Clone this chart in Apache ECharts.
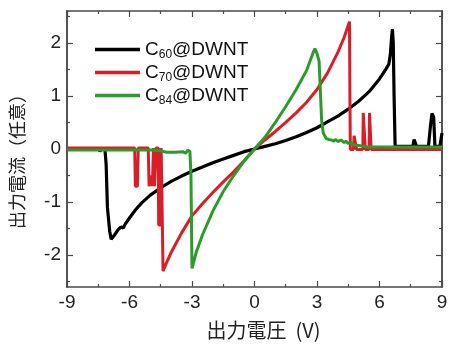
<!DOCTYPE html>
<html>
<head>
<meta charset="utf-8">
<script src="https://cdn.jsdelivr.net/npm/echarts@6/dist/echarts.min.js"></script>
<style>
html,body{margin:0;padding:0;background:#fff;}
#c{width:451px;height:345px;}
</style>
</head>
<body>
<div id="c"></div>
<script>
// ---- data ----
var seriesNames = ['C60@DWNT', 'C70@DWNT', 'C84@DWNT'];
var xTickLabels = [-9, -6, -3, 0, 3, 6, 9];
var yTickLabels = [-2, -1, 0, 1, 2];
var yMinorTicks = [-2.5, -1.5, -0.5, 0.5, 1.5, 2.5];
var xTitle = '出力電圧  (V)';
var yTitle = '出力電流（任意）';

var c60 = [
  [-9,0.0],[-8.0,0.0],[-7.45,0.0],[-7.42,-0.05],[-7.38,0.0],[-7.18,0.0],[-7.12,-0.3],[-7.06,-1.1],
  [-7.0,-1.35],[-6.95,-1.55],[-6.88,-1.7],[-6.8,-1.68],[-6.72,-1.62],[-6.6,-1.55],[-6.5,-1.5],
  [-6.4,-1.47],[-6.3,-1.49],[-6.2,-1.41],[-6.0,-1.3],[-5.7,-1.14],[-5.4,-1.01],[-5.0,-0.87],
  [-4.5,-0.73],[-4.0,-0.61],[-3.5,-0.51],[-3.0,-0.42],[-2.5,-0.34],[-2.0,-0.26],[-1.5,-0.19],
  [-1.0,-0.12],[-0.5,-0.05],[0,0],[0.5,0.05],[1.0,0.1],[1.5,0.16],[2.0,0.23],[2.5,0.31],
  [3.0,0.4],[3.5,0.51],[4.0,0.62],[4.5,0.75],[5.0,0.9],[5.5,1.08],[6.0,1.32],[6.3,1.5],
  [6.45,1.6],[6.52,1.78],[6.58,2.1],[6.62,2.26],[6.66,2.0],[6.7,1.0],[6.75,0.05],[7.0,0.05],
  [7.6,0.05],[7.66,0.18],[7.72,0.17],[7.78,0.05],[8.35,0.05],[8.45,0.45],[8.52,0.67],[8.6,0.6],
  [8.66,0.05],[8.9,0.05],[9.0,0.3]
];
var c70 = [
  [-9,0.02],[-5.75,0.02],[-5.72,-0.7],[-5.62,-0.7],[-5.58,0.02],[-5.1,0.02],[-5.06,-0.7],
  [-4.96,-0.5],[-4.9,-0.7],[-4.85,0.02],[-4.8,-0.7],[-4.74,-0.7],[-4.72,0.02],[-4.62,0.02],
  [-4.6,-1.43],[-4.5,-1.43],[-4.48,0.02],[-4.45,0.02],[-4.42,-1.5],[-4.39,-2.3],[-4.2,-2.12],
  [-4.0,-1.95],[-3.76,-1.77],[-3.5,-1.58],[-3.0,-1.26],[-2.5,-1.03],[-2.0,-0.82],[-1.5,-0.62],
  [-1.0,-0.43],[-0.5,-0.22],[0,0],[0.5,0.17],[1.0,0.33],[1.5,0.5],[2.0,0.68],[2.5,0.88],
  [3.0,1.12],[3.5,1.43],[4.0,1.82],[4.3,2.1],[4.5,2.33],[4.56,2.4],[4.58,1.0],[4.6,-0.01],
  [4.75,-0.01],[4.78,0.25],[4.86,0.25],[4.9,-0.01],[5.2,-0.01],[5.22,0.68],[5.3,0.68],
  [5.32,-0.01],[5.5,-0.01],[5.52,0.68],[5.58,0.68],[5.6,-0.01],[9,-0.01]
];
var c84 = [
  [-9,-0.02],[-5.0,-0.02],[-4.6,-0.03],[-4.2,-0.06],[-3.8,-0.06],[-3.45,-0.05],[-3.3,-0.08],
  [-3.2,-0.02],[-3.1,-0.05],[-3.05,-0.5],[-3.0,-2.25],[-2.8,-1.95],[-2.5,-1.62],[-2.0,-1.17],
  [-1.5,-0.8],[-1.0,-0.5],[-0.5,-0.23],[0,0],[0.5,0.22],[1.0,0.5],[1.5,0.8],[2.0,1.12],
  [2.5,1.48],[2.8,1.8],[2.9,1.89],[3.0,1.8],[3.1,1.65],[3.15,1.2],[3.22,0.55],[3.3,0.3],
  [3.44,0.2],[3.55,0.18],[3.68,0.17],[3.8,0.15],[3.9,0.18],[4.0,0.14],[4.15,0.17],[4.3,0.12],
  [4.4,0.15],[4.47,0.11],[4.6,0.12],[4.79,0.075],[5.1,0.06],[5.42,0.04],[9,0.04]
];
var seriesData = [c60, c70, c84];
var seriesColors = ['#000000', '#d81e28', '#2b9b2b'];

// ---- chart ----
var FONT = 'Liberation Sans, Arial, sans-serif';
var CJK = 'Noto Sans CJK JP, sans-serif';
var axisColor = '#4a4a4a';
var chart = echarts.init(document.getElementById('c'), null, {renderer: 'canvas'});

function yAxisDef(pos, ticks, len, labels, extra) {
  var a = {
    type: 'value', position: pos, min: -2.6, max: 2.6,
    axisLine: {show: true, onZero: false, lineStyle: {color: axisColor, width: 1.5}},
    axisTick: {show: true, inside: true, length: len, customValues: ticks, lineStyle: {color: axisColor, width: 1.2}},
    axisLabel: labels ? {show: true, customValues: yTickLabels, fontSize: 19, fontFamily: FONT, color: '#222', margin: 6} : {show: false},
    splitLine: {show: false}
  };
  if (extra) for (var k in extra) a[k] = extra[k];
  return a;
}
function xAxisDef(pos, labels, extra) {
  var a = {
    type: 'value', position: pos, min: xTickLabels[0], max: xTickLabels[xTickLabels.length - 1], interval: 3,
    axisLine: {show: true, onZero: false, lineStyle: {color: axisColor, width: 1.5}},
    axisTick: {show: true, inside: true, length: 6, lineStyle: {color: axisColor, width: 1.2}},
    minorTick: {show: true, splitNumber: 2, length: 3, lineStyle: {color: axisColor, width: 1.2}},
    axisLabel: labels ? {show: true, fontSize: 19, fontFamily: FONT, color: '#222', margin: 6} : {show: false},
    splitLine: {show: false}, minorSplitLine: {show: false}
  };
  if (extra) for (var k in extra) a[k] = extra[k];
  return a;
}

var series = seriesNames.map(function (n, i) {
  return {
    name: n, type: 'line', data: seriesData[i], xAxisIndex: 0, yAxisIndex: 0,
    symbol: 'none', smooth: false, animation: false,
    lineStyle: {color: seriesColors[i], width: i === 0 ? 3.2 : 3},
    itemStyle: {color: seriesColors[i]}
  };
});

chart.setOption({
  backgroundColor: '#ffffff',
  animation: false,
  grid: {left: 63, right: 9, top: 11, bottom: 58, containLabel: false},
  xAxis: [
    xAxisDef('bottom', true, {
      name: xTitle, nameLocation: 'middle', nameGap: 33,
      nameTextStyle: {fontSize: 20, fontFamily: CJK, color: '#222', padding: [0, 0, 0, 18]}
    }),
    xAxisDef('top', false)
  ],
  yAxis: [
    yAxisDef('left', yTickLabels, 6, true, {
      name: yTitle, nameLocation: 'middle', nameGap: 41, nameRotate: 90,
      nameTextStyle: {fontSize: 18, fontFamily: CJK, color: '#222', padding: [0, 16, 0, 0]}
    }),
    yAxisDef('left', yMinorTicks, 3, false),
    yAxisDef('right', yTickLabels, 6, false),
    yAxisDef('right', yMinorTicks, 3, false)
  ],
  legend: {
    orient: 'vertical', left: 90, top: 35, itemWidth: 45, itemHeight: 3.5, itemGap: 2.5,
    icon: 'rect',
    data: seriesNames,
    formatter: function (name) {
      var m = name.match(/^C(\d+)(.*)$/);
      return '{m|C}{s|' + m[1] + '}{m|' + m[2] + '}';
    },
    textStyle: {
      fontFamily: FONT, fontSize: 19, color: '#111',
      rich: {
        m: {fontSize: 19, fontFamily: FONT, color: '#111', lineHeight: 22},
        s: {fontSize: 12, fontFamily: FONT, color: '#111', lineHeight: 4, verticalAlign: 'bottom'}
      }
    }
  },
  series: series
});
</script>
</body>
</html>
